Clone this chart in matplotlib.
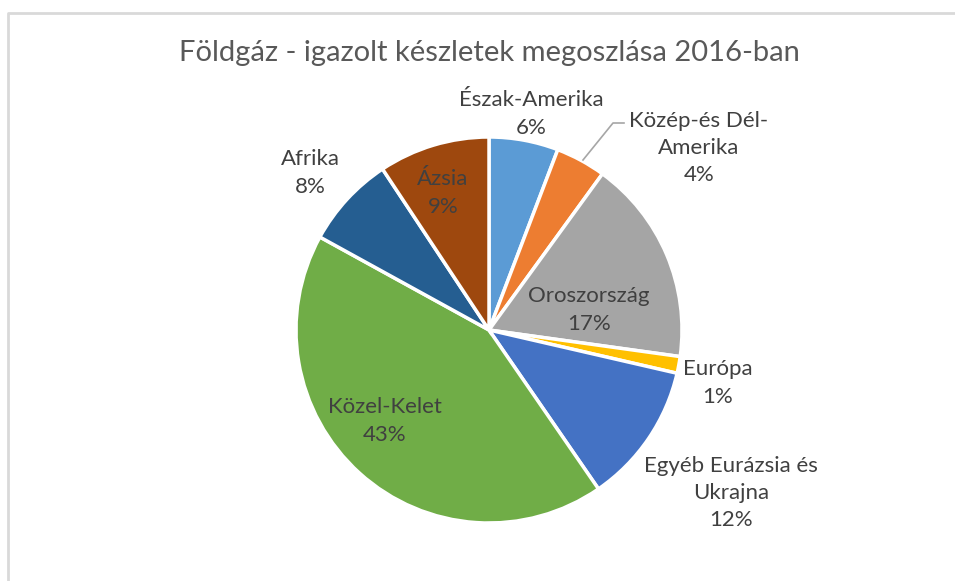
import matplotlib.pyplot as plt
import numpy as np

plt.rcParams['font.family'] = ['Lato', 'DejaVu Sans']

# Földgáz bizonyított készletek, 2016 (%)
regions = ['Észak-Amerika', 'Közép-és Dél-\nAmerika', 'Oroszország', 'Európa',
           'Egyéb Eurázsia és\nUkrajna', 'Közel-Kelet', 'Afrika', 'Ázsia']
shares = [5.8, 4.2, 17.2, 1.4, 11.8, 42.6, 7.7, 9.3]
pct_labels = ['6%', '4%', '17%', '1%', '12%', '43%', '8%', '9%']
colors = ['#5B9BD5', '#ED7D31', '#A5A5A5', '#FFC000',
          '#4472C4', '#70AD47', '#255E91', '#9E480E']

# label placement: pixel offsets from the pie centre (x right, y up)
label_pos = [(42, 216), (210, 182), (100, 20), (229, -53),
             (242, -163), (-104, -91), (-179, 157), (-46, 137)]

W, H = 955, 581
cx, cy, r = 489, H - 330, 193

fig = plt.figure(figsize=(W / 100, H / 100), dpi=100)
ax = fig.add_axes([0, 0, 1, 1])

# chart area frame
ax.plot([8, 8, W + 5], [-5, H - 13, H - 13], color='#D9D9D9', lw=2, clip_on=False)

ax.pie(shares, colors=colors, startangle=90, counterclock=False,
       center=(cx, cy), radius=r, frame=True,
       wedgeprops=dict(edgecolor='white', linewidth=2.5))
ax.set_xlim(0, W)
ax.set_ylim(0, H)
ax.set_aspect('equal')
ax.axis('off')

for name, pct, (dx, dy) in zip(regions, pct_labels, label_pos):
    ax.text(cx + dx, cy + dy, name + '\n' + pct, ha='center', va='center',
            fontsize=16, color='#404040', linespacing=1.45)

# leader line for Közép-és Dél-Amerika
ax.plot([583, 613, 624], [H - 160, H - 123, H - 123], color='#A6A6A6', lw=1.2)

ax.text(489, H - 53, 'Földgáz - igazolt készletek megoszlása 2016-ban',
        ha='center', va='center', fontsize=21, color='#595959')

plt.savefig('out.png', dpi=100)
